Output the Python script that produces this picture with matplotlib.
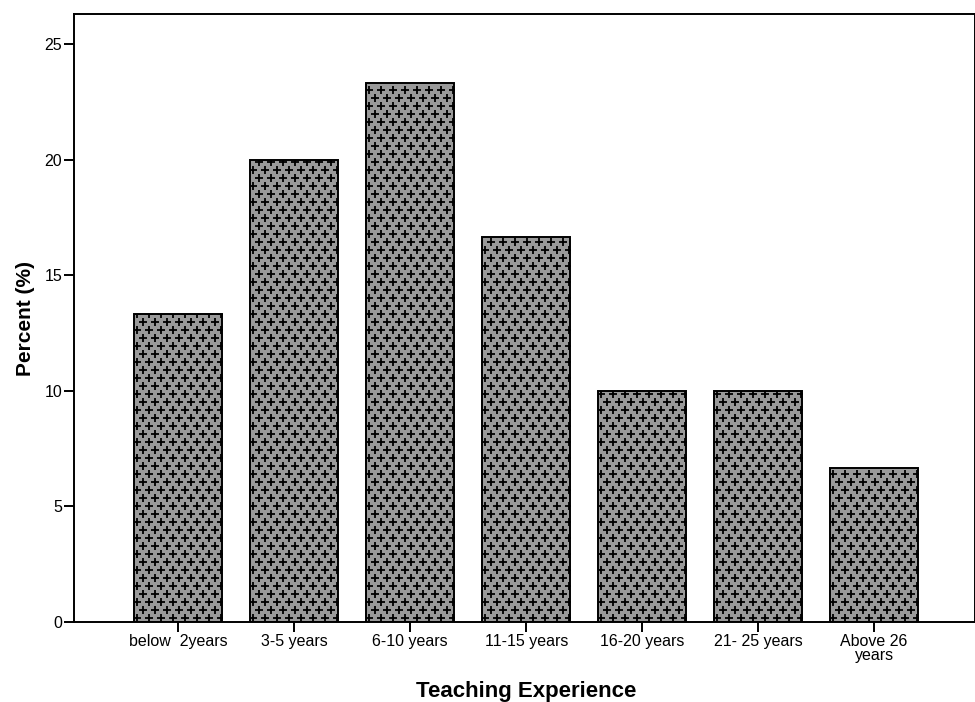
import numpy as np
import matplotlib
matplotlib.use("Agg")
import matplotlib.pyplot as plt

plt.rcParams['font.family'] = ['Liberation Sans', 'DejaVu Sans']

categories = ["below  2years", "3-5 years", "6-10 years", "11-15 years",
              "16-20 years", "21- 25 years", "Above 26\nyears"]
percent = [13.33, 20.0, 23.33, 16.67, 10.0, 10.0, 6.67]

fig = plt.figure(figsize=(9.75, 7.02), dpi=100)
ax = fig.add_axes([0.0759, 0.114, 0.9241, 0.866])

x = np.arange(len(categories))
bars = ax.bar(x, percent, width=0.76, color="#9a9a9a", edgecolor="black",
              linewidth=1.4, zorder=2)

# cross texture inside each bar (staggered rows)
dx = 0.1034
dy = 0.346
for b in bars:
    x0, w, h = b.get_x(), b.get_width(), b.get_height()
    ys = np.arange(dy / 2, h, dy)
    px, py = [], []
    for i, yy in enumerate(ys):
        off = dx / 2 if i % 2 else 0.0
        xs = np.arange(x0 + dx / 4 + off, x0 + w, dx)
        px.extend(xs)
        py.extend([yy] * len(xs))
    sc = ax.scatter(px, py, marker="+", s=38, linewidths=1.3, color="black", zorder=3)
    sc.set_clip_path(b)

ax.set_xlim(-0.9, 6.87)
ax.set_ylim(0, 26.3)
ax.set_yticks([0, 5, 10, 15, 20, 25])
ax.set_xticks(x)
ax.set_xticklabels(categories, fontsize=11.5, linespacing=0.85)
ax.tick_params(axis="y", labelsize=11.5, length=7.5, width=1.4, direction="out", pad=1)
ax.tick_params(axis="x", length=7, width=1.4, direction="out", pad=2)
for s in ax.spines.values():
    s.set_linewidth(1.4)
    s.set_color("black")

ax.set_xlabel("Teaching Experience", fontsize=16, fontweight="bold")
ax.set_ylabel("Percent (%)", fontsize=15, fontweight="bold")
ax.xaxis.set_label_coords(0.502, -0.097)
ax.yaxis.set_label_coords(-0.043, 0.5)

fig.savefig("out.png", dpi=100)
